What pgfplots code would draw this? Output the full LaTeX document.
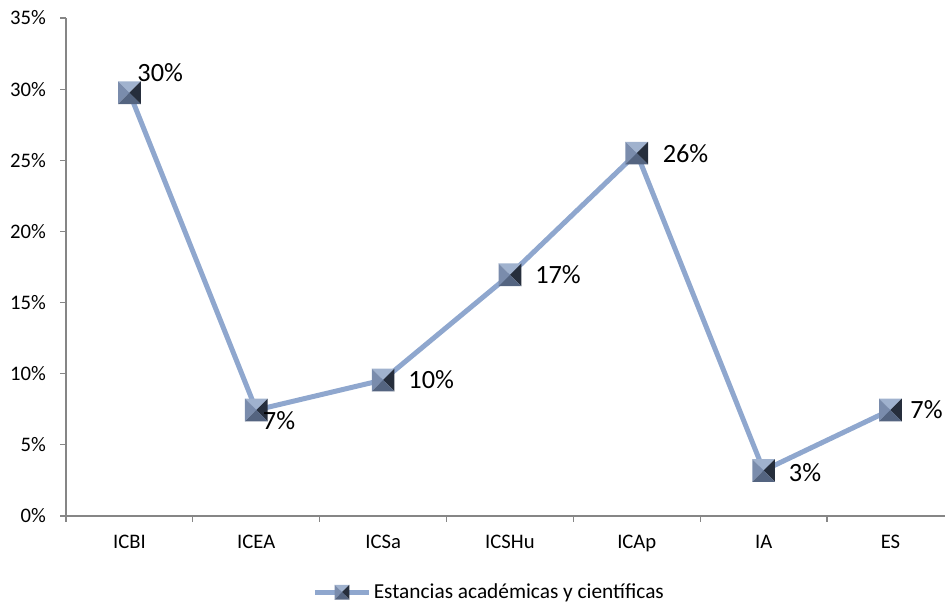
\documentclass[border=0pt]{standalone}
\usepackage{pgfplots}
\pgfplotsset{compat=1.18}
\usepackage{pgfplotstable}
\usepackage{fontspec}
\setmainfont{Carlito}
\definecolor{linec}{RGB}{143,167,206}
\definecolor{axc}{RGB}{134,134,134}
\definecolor{mkT}{RGB}{160,178,206}
\definecolor{mkL}{RGB}{122,140,172}
\definecolor{mkR}{RGB}{38,46,60}
\definecolor{mkB}{RGB}{84,100,128}
\pgfdeclareplotmark{bevel}{%
  \pgfsetfillcolor{mkT}%
  \pgfpathmoveto{\pgfqpoint{-\pgfplotmarksize}{\pgfplotmarksize}}%
  \pgfpathlineto{\pgfqpoint{\pgfplotmarksize}{\pgfplotmarksize}}%
  \pgfpathlineto{\pgfqpoint{0pt}{0pt}}\pgfpathclose\pgfusepath{fill}%
  \pgfsetfillcolor{mkL}%
  \pgfpathmoveto{\pgfqpoint{-\pgfplotmarksize}{\pgfplotmarksize}}%
  \pgfpathlineto{\pgfqpoint{-\pgfplotmarksize}{-\pgfplotmarksize}}%
  \pgfpathlineto{\pgfqpoint{0pt}{0pt}}\pgfpathclose\pgfusepath{fill}%
  \pgfsetfillcolor{mkR}%
  \pgfpathmoveto{\pgfqpoint{\pgfplotmarksize}{\pgfplotmarksize}}%
  \pgfpathlineto{\pgfqpoint{\pgfplotmarksize}{-\pgfplotmarksize}}%
  \pgfpathlineto{\pgfqpoint{0pt}{0pt}}\pgfpathclose\pgfusepath{fill}%
  \pgfsetfillcolor{mkB}%
  \pgfpathmoveto{\pgfqpoint{-\pgfplotmarksize}{-\pgfplotmarksize}}%
  \pgfpathlineto{\pgfqpoint{\pgfplotmarksize}{-\pgfplotmarksize}}%
  \pgfpathlineto{\pgfqpoint{0pt}{0pt}}\pgfpathclose\pgfusepath{fill}%
}
\pgfplotstableread{
x y lab dx dy
0 29.75 30 6 15
1 7.45 7 5 -8
2 9.56 10 19 0
3 16.95 17 19 0
4 25.5 26 19.5 0
5 3.2 3 19 -1.5
6 7.45 7 15 0
}\datatab
\begin{document}
\begin{tikzpicture}
\begin{axis}[
  scale only axis,
  width=659.25pt, height=373.5pt,
  xmin=-0.5, xmax=6.43,
  ymin=0, ymax=35,
  axis x line=bottom, axis y line=left,
  axis line style={-, draw=axc, line width=1pt},
  tick align=outside,
  major tick length=4.5pt,
  tick style={draw=axc, line width=0.9pt},
  ytick={0,5,...,35},
  yticklabels={0\%,5\%,10\%,15\%,20\%,25\%,30\%,35\%},
  yticklabel style={font=\fontsize{15.5}{18}\selectfont, xshift=-7pt},
  xtick={-0.5,0.5,...,5.5},
  xticklabels={},
  extra x ticks={0,1,2,3,4,5,6},
  extra x tick labels={ICBI,ICEA,ICSa,ICSHu,ICAp,IA,ES},
  extra x tick style={major tick length=0pt},
  xticklabel style={font=\fontsize{15.5}{18}\selectfont, yshift=-11pt},
  legend style={at={(0.482,-0.153)}, anchor=center, draw=none, fill=none,
    font=\fontsize{16}{19}\selectfont, inner sep=0pt},
  legend image code/.code={\draw[mark repeat=2,mark phase=2,mark size=5.5pt,#1] plot coordinates {(0pt,0pt) (20pt,0pt) (40pt,0pt)};},
  clip=false,
]
\addplot[color=linec, line width=3.75pt, mark=bevel, mark size=8.5pt,
  mark options={solid, line width=0pt},
  nodes near coords={\pgfplotspointmeta\%},
  point meta=explicit symbolic,
  visualization depends on={\thisrow{dx} \as \dx},
  visualization depends on={\thisrow{dy} \as \dy},
  every node near coord/.append style={anchor=west, inner sep=0pt, text=black,
    font=\fontsize{19.75}{23}\selectfont, xshift=\dx pt, yshift=\dy pt},
] table[x=x, y=y, meta=lab] {\datatab};
\addlegendentry{Estancias académicas y científicas}
\end{axis}
\pgfresetboundingbox
\path[use as bounding box] (-49.5pt,-66.75pt) rectangle (659.25pt,387pt);
\end{tikzpicture}
\end{document}
